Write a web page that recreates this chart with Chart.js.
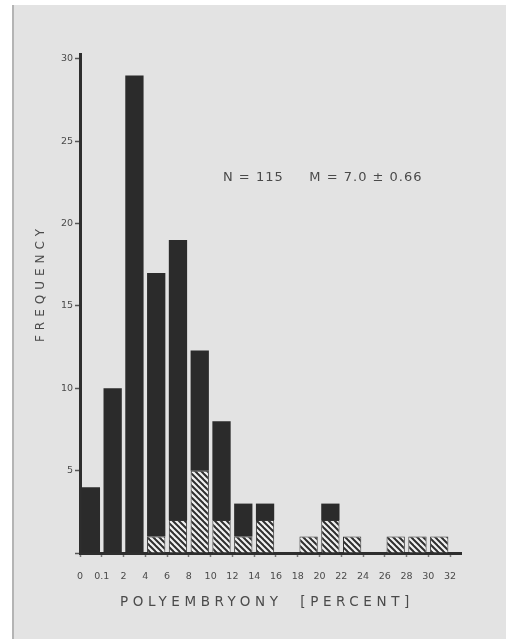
<!DOCTYPE html>
<html lang="en">
<head>
    <meta charset="UTF-8">
    <title>Polyembryony</title>
    <style>
        body { margin:0; background:#fff; }
    </style>
    <script src="https://cdn.jsdelivr.net/npm/chart.js"></script>
</head>
<body>

<canvas id="histChart" width="506" height="641"></canvas>

<script>
// bin edges along the x axis (percent)
const binLabels = ['0', '0.1', '2', '4', '6', '8', '10', '12', '14', '16', '18', '20', '22', '24', '26', '28', '30', '32'];
// frequency per bin, whole bar
const totals  = [4, 10, 29, 17, 19, 12.3, 8, 3, 3, 0, 1, 3, 1, 0, 1, 1, 1];
// hatched part at the bottom of each bar
const hatched = [0, 0, 0, 1, 2, 5, 2, 1, 2, 0, 1, 2, 1, 0, 1, 1, 1];
const yTicks = [0, 5, 10, 15, 20, 25, 30];

function makeHatch(){
  var n = 6;
  var c = document.createElement('canvas');
  c.width = n; c.height = n;
  var g = c.getContext('2d');
  g.fillStyle = '#f0f0f0';
  g.fillRect(0, 0, n, n);
  g.strokeStyle = '#2e2e2e';
  g.lineWidth = 2;
  [-n, 0, n].forEach(function(k){
    g.beginPath();
    g.moveTo(-1, k - 1);
    g.lineTo(n + 1, k + n + 1);
    g.stroke();
  });
  return g.createPattern(c, 'repeat');
}

var hatchPts = [];
var solidPts = [];
totals.forEach(function(t, i){
  hatchPts.push({x: i + 0.5, y: hatched[i] ? hatched[i] : null});
  var rest = t - hatched[i];
  solidPts.push({x: i + 0.5, y: rest > 0 ? rest : null});
});

// card background and hand lettered texts
const paperPlugin = {
  id: 'paper',
  beforeDraw: function(chart){
    var ctx = chart.ctx;
    ctx.save();
    ctx.fillStyle = '#ffffff';
    ctx.fillRect(0, 0, chart.width, chart.height);
    ctx.fillStyle = '#e3e3e3';
    ctx.fillRect(12, 5, chart.width - 12, 634);
    ctx.fillStyle = '#b4b4b4';
    ctx.fillRect(12, 5, 2, 634);
    ctx.restore();
  },
  afterDraw: function(chart){
    var ctx = chart.ctx;
    ctx.save();
    ctx.fillStyle = '#4a4a4a';
    ctx.textBaseline = 'middle';
    ctx.textAlign = 'center';

    ctx.font = '13.5px "DejaVu Sans"';
    ctx.letterSpacing = '4.6px';
    ctx.fillText('POLYEMBRYONY  [PERCENT]', 267, 602);

    ctx.save();
    ctx.translate(41, 283);
    ctx.rotate(-Math.PI / 2);
    ctx.font = '12px "DejaVu Sans"';
    ctx.letterSpacing = '5px';
    ctx.fillText('FREQUENCY', 0, 0);
    ctx.restore();

    ctx.font = '13px "DejaVu Sans"';
    ctx.letterSpacing = '1px';
    ctx.textAlign = 'left';
    ctx.fillText('N = 115     M = 7.0 \u00b1 0.66', 223, 178);
    ctx.restore();
  }
};

const config_hist = {
  type: 'bar',
  data: {
    datasets: [{
      label: 'hatched',
      data: hatchPts,
      backgroundColor: makeHatch(),
      borderColor: '#333333',
      borderWidth: 1,
      stack: 's'
    }, {
      label: 'solid',
      data: solidPts,
      backgroundColor: '#2b2b2b',
      borderColor: '#2b2b2b',
      borderWidth: 0,
      stack: 's'
    }]
  },
  options: {
    responsive: false,
    animation: false,
    devicePixelRatio: 1,
    barPercentage: 0.84,
    categoryPercentage: 1,
    layout: { padding: { left: 0, top: 54, right: 45, bottom: 0 } },
    plugins: {
      legend: { display: false },
      tooltip: { enabled: false }
    },
    scales: {
      x: {
        type: 'linear',
        offset: false,
        stacked: true,
        min: 0,
        max: 17.5,
        afterBuildTicks: function(s){
          s.ticks = binLabels.map(function(l, i){ return {value: i}; });
        },
        afterFit: function(s){ s.height = 88; },
        ticks: {
          autoSkip: false,
          maxRotation: 0,
          padding: 14,
          color: '#4a4a4a',
          font: { family: 'DejaVu Sans', size: 9.5 },
          callback: function(v){ return binLabels[v]; }
        },
        grid: { offset: false, drawOnChartArea: false, tickLength: 4, tickColor: '#777', tickWidth: 1.5 },
        border: { display: true, color: '#2e2e2e', width: 3 }
      },
      y: {
        stacked: true,
        min: 0,
        max: 30.3,
        afterBuildTicks: function(s){
          s.ticks = yTicks.map(function(v){ return {value: v}; });
        },
        afterFit: function(s){ s.width = 80; },
        ticks: {
          padding: 2,
          color: '#4a4a4a',
          font: { family: 'DejaVu Sans', size: 9.5 },
          callback: function(v){ return v === 0 ? '' : v; }
        },
        grid: { drawOnChartArea: false, tickLength: 5, tickColor: '#555', tickWidth: 1.5 },
        border: { display: true, color: '#2e2e2e', width: 3 }
      }
    }
  },
  plugins: [paperPlugin]
};

var histChart = new Chart(document.getElementById('histChart'), config_hist);
</script>

</body>
</html>
